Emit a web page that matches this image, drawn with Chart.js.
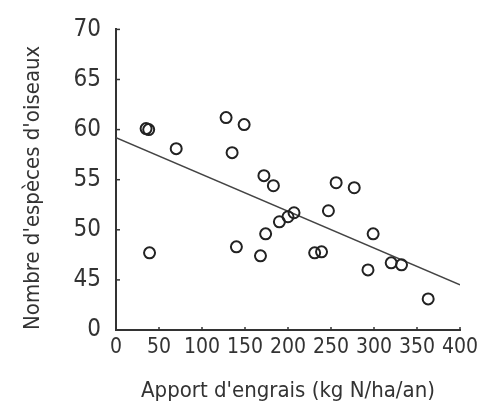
<!DOCTYPE html>
<html>
<head>
<meta charset="utf-8">
<script src="https://cdn.jsdelivr.net/npm/chart.js@4/dist/chart.umd.min.js"></script>
<style>
  html, body { margin: 0; padding: 0; background: #fff; }
  #wrap { width: 486px; height: 412px; }
</style>
</head>
<body>
<div id="wrap"><canvas id="chart" width="486" height="412"></canvas></div>
<script>
// engrais (kg N/ha/an) vs nombre d'especes
const engrais = [35, 38, 70, 128, 135, 149, 172, 183, 256, 277,
                 39, 140, 168, 174, 190, 200, 207, 231, 239, 247,
                 299, 293, 320, 332, 363];
const especes = [60.1, 60.0, 58.1, 61.2, 57.7, 60.5, 55.4, 54.4, 54.7, 54.2,
                 47.7, 48.3, 47.4, 49.6, 50.8, 51.3, 51.7, 47.7, 47.8, 51.9,
                 49.6, 46.0, 46.7, 46.5, 43.1];
// droite de regression
const regX = [0, 400];
const regY = [59.2, 44.5];
const yTicks = [40, 45, 50, 55, 60, 65, 70];   // 40 affiche "0" (axe coupe)
const xTicks = [0, 50, 100, 150, 200, 250, 300, 350, 400];

const FONT = "'Liberation Sans Narrow', 'DejaVu Sans Condensed', 'Roboto Condensed', sans-serif";
const INK = '#333';

// petits traits de graduation vers l'interieur
const innerTicks = {
  id: 'innerTicks',
  afterDatasetsDraw(chart) {
    const ctx = chart.ctx;
    const { x, y } = chart.scales;
    ctx.save();
    ctx.strokeStyle = INK;
    ctx.lineWidth = 1.5;
    yTicks.forEach(v => {
      const py = y.getPixelForValue(v);
      ctx.beginPath();
      ctx.moveTo(x.left, py);
      ctx.lineTo(x.left + 4, py);
      ctx.stroke();
    });
    xTicks.forEach(v => {
      const px = x.getPixelForValue(v);
      ctx.beginPath();
      ctx.moveTo(px, y.bottom);
      ctx.lineTo(px, y.bottom - 3);
      ctx.stroke();
    });
    ctx.restore();
  }
};

new Chart(document.getElementById('chart').getContext('2d'), {
  type: 'scatter',
  data: {
    datasets: [{
      data: engrais.map((v, i) => ({ x: v, y: especes[i] })),
      pointStyle: 'circle',
      pointRadius: 5.5,
      pointBorderWidth: 2,
      pointBorderColor: '#222',
      pointBackgroundColor: 'rgba(0,0,0,0)',
      showLine: false
    }, {
      data: regX.map((v, i) => ({ x: v, y: regY[i] })),
      showLine: true,
      borderColor: '#444',
      borderWidth: 1.5,
      pointRadius: 0
    }]
  },
  plugins: [innerTicks],
  options: {
    responsive: false,
    animation: false,
    layout: { padding: { top: 20, right: 26, left: 0, bottom: 0 } },
    plugins: { legend: { display: false }, tooltip: { enabled: false } },
    scales: {
      x: {
        type: 'linear',
        min: 0, max: 400,
        afterFit: s => { s.height = 82; },
        afterBuildTicks: s => { s.ticks = xTicks.map(v => ({ value: v })); },
        grid: { display: true, drawOnChartArea: false, drawTicks: false },
        border: { display: true, color: INK, width: 2 },
        ticks: { color: INK, font: { family: FONT, size: 21 }, padding: 5, maxRotation: 0 },
        title: {
          display: true,
          text: "Apport d'engrais (kg N/ha/an)",
          color: INK,
          font: { family: FONT, size: 22 },
          padding: { top: 0, bottom: 8 }
        }
      },
      y: {
        type: 'linear',
        min: 40, max: 70,
        afterFit: s => { s.width = 116; },
        afterBuildTicks: s => { s.ticks = yTicks.map(v => ({ value: v })); },
        grid: { display: true, drawOnChartArea: false, drawTicks: false },
        border: { display: true, color: INK, width: 2 },
        ticks: {
          color: INK,
          font: { family: FONT, size: 24 },
          padding: 15,
          callback: v => (v === 40 ? '0' : String(v))
        },
        title: {
          display: true,
          text: "Nombre d'espèces d'oiseaux",
          align: 'start',
          color: INK,
          font: { family: FONT, size: 22 },
          padding: { top: 20, bottom: 0 }
        }
      }
    }
  }
});
</script>
</body>
</html>
